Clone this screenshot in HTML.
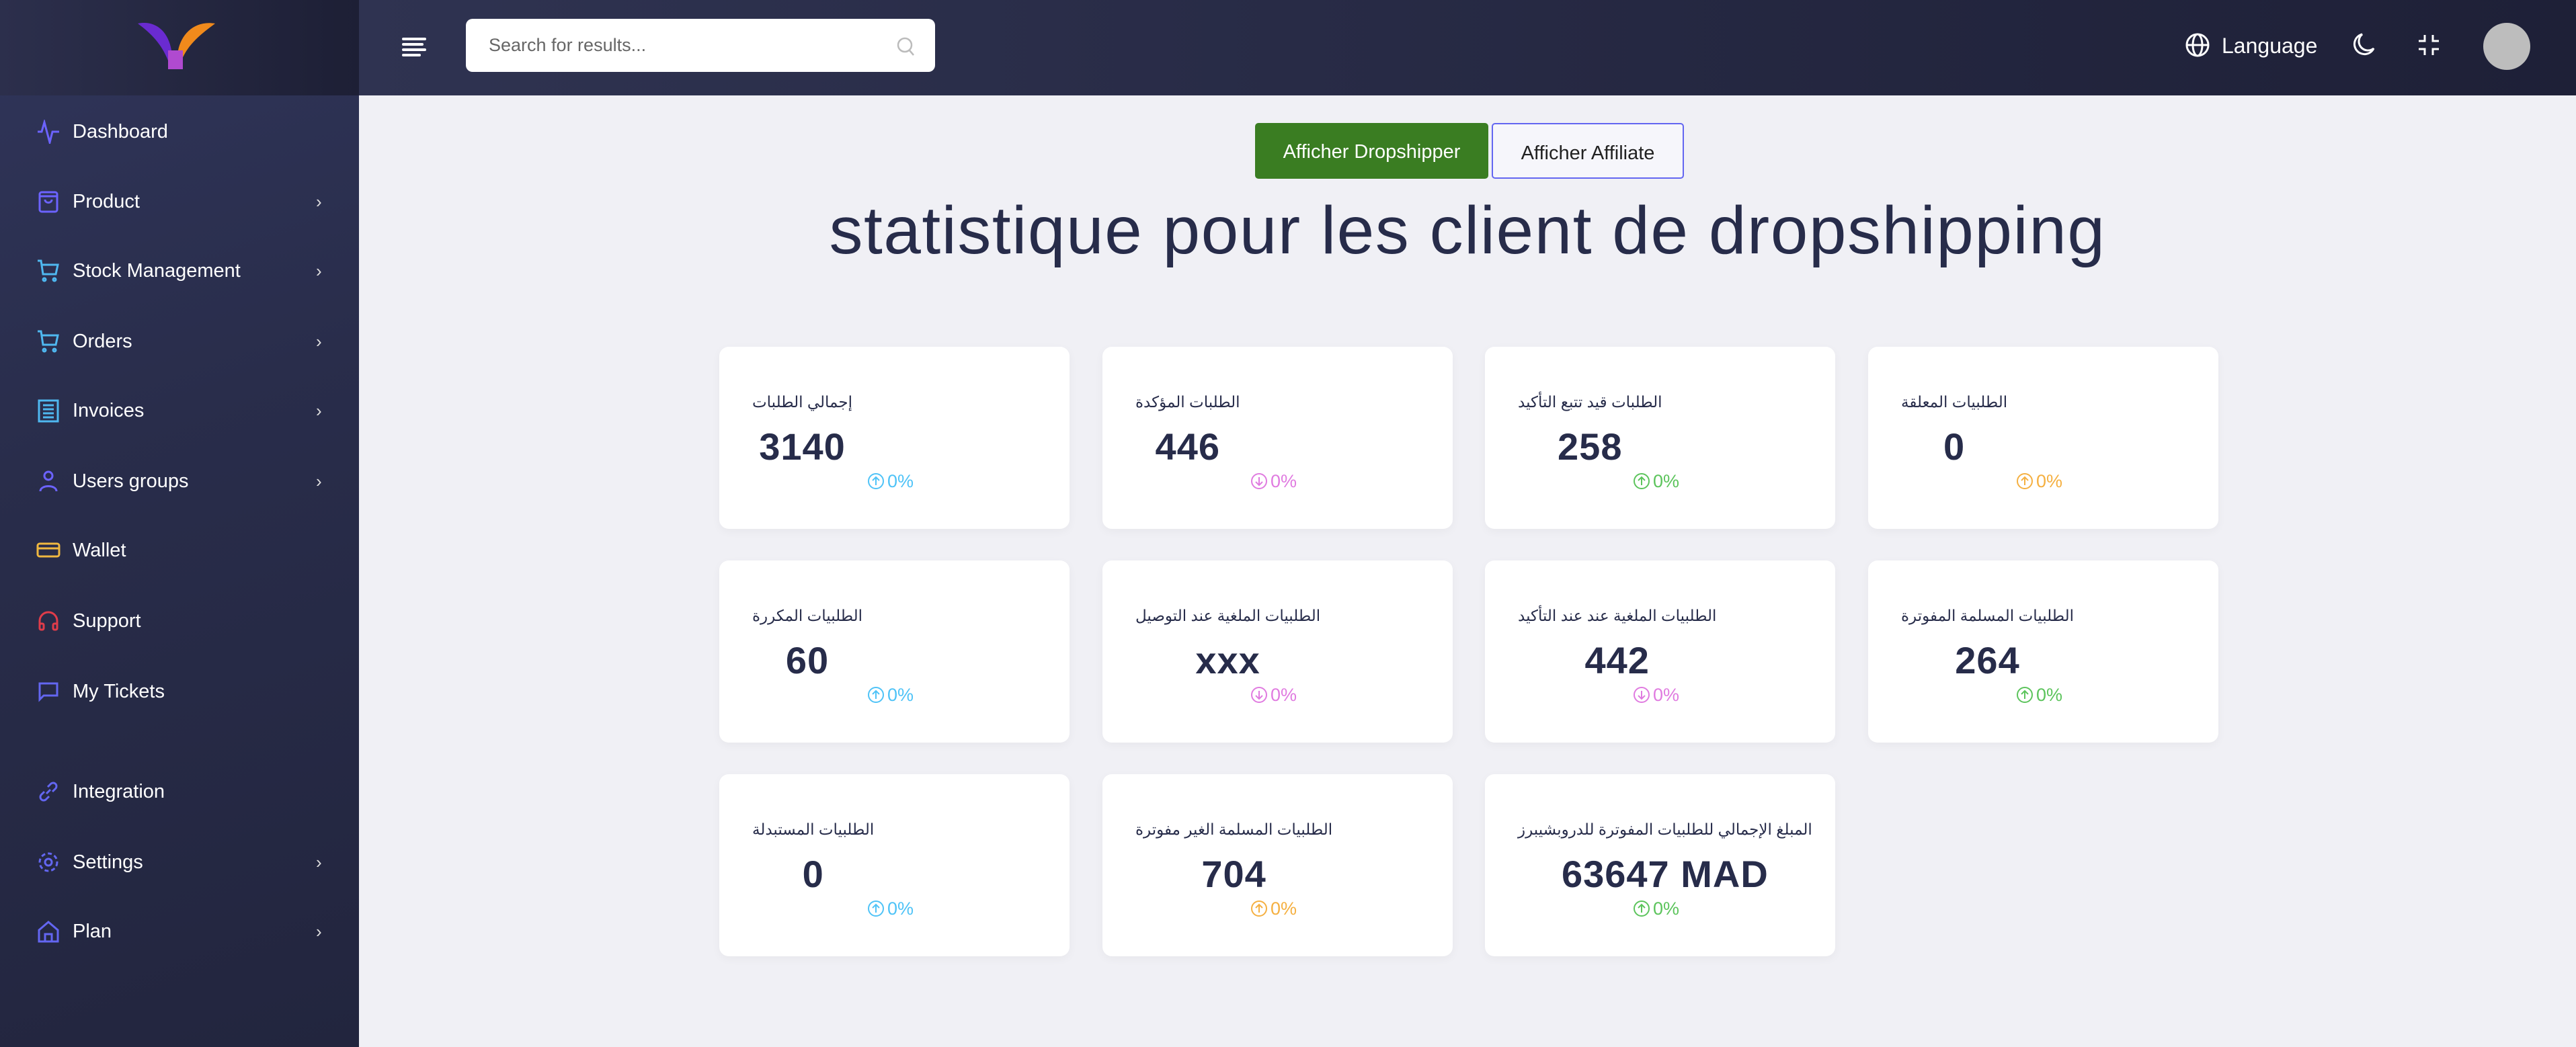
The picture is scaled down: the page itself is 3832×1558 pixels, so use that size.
<!DOCTYPE html>
<html><head><meta charset="utf-8"><style>
*{margin:0;padding:0;box-sizing:border-box}
body{width:3832px;height:1558px;overflow:hidden;background:#f0f0f5;font-family:"Liberation Sans","Noto Sans CJK SC",sans-serif;position:relative}
.side{position:absolute;left:0;top:0;width:534px;height:1558px;background:linear-gradient(160deg,#30355a 0%,#292d4b 40%,#22253e 100%)}
.logo{position:absolute;left:0;top:0;width:534px;height:142px;background:linear-gradient(90deg,#2c2f4c,#1d1f35)}
.hdr{position:absolute;left:534px;top:0;width:3298px;height:142px;background:linear-gradient(90deg,#2f3351,#1e2037)}
.nav{position:absolute;left:0;width:534px;height:60px;color:#fff;font-size:29px;line-height:60px}
.nav svg{position:absolute;left:54px;top:12px}
.nav span{position:absolute;left:108px}
.nav i{position:absolute;left:470px;font-style:normal;font-size:26px;color:#ddd}
.search{position:absolute;left:693px;top:28px;width:698px;height:79px;background:#fff;border-radius:10px;color:#666;font-size:27px;line-height:79px;padding-left:34px}
.card{position:absolute;width:521px;height:271px;background:#fff;border-radius:14px;box-shadow:0 4px 14px rgba(0,0,0,0.04)}
.lab{position:absolute;left:49px;top:62px;text-align:center;color:#272c4a}
.lab b{display:block;font-weight:normal;font-size:23px;white-space:nowrap;height:40px;line-height:40px}
.lab em{display:block;font-style:normal;font-weight:bold;font-size:56px;margin-top:14px;white-space:nowrap;letter-spacing:1px}
.pct{position:absolute;left:220px;top:185px;font-size:27px;line-height:30px}
.pct svg{vertical-align:-4px;margin-right:4px}
.btn{position:absolute;top:183px;height:83px;font-size:29px;line-height:86px;text-align:center;border-radius:5px}
h1{position:absolute;left:534px;width:3298px;top:286px;text-align:center;font-weight:normal;font-size:100px;color:#272c4a;letter-spacing:1.5px}
</style></head><body>
<div class="side"></div>
<div class="logo"><svg style="position:absolute;left:200px;top:30px" width="130" height="75" viewBox="0 0 130 75"><path d="M5 5 C30 0 50 15 55 45 L50 60 C40 35 25 20 5 5Z" fill="#6a2bd1"/><path d="M120 5 C90 0 70 20 65 45 L70 60 C80 35 100 20 120 5Z" fill="#f08a1c"/><rect x="50" y="45" width="22" height="28" fill="#b04ad0"/></svg></div>
<div class="hdr"></div>
<svg style="position:absolute;left:598px;top:55px" width="36" height="30"><g stroke="#fff" stroke-width="4" stroke-linecap="round"><line x1="2" y1="3" x2="34" y2="3"/><line x1="2" y1="11" x2="30" y2="11"/><line x1="2" y1="19" x2="34" y2="19"/><line x1="2" y1="27" x2="26" y2="27"/></g></svg>
<div class="search">Search for results...<svg style="position:absolute;right:30px;top:26px" width="28" height="30"><circle cx="13" cy="13" r="10" fill="none" stroke="#bbb" stroke-width="2.5"/><line x1="20" y1="21" x2="26" y2="28" stroke="#bbb" stroke-width="2.5"/></svg></div>
<svg style="position:absolute;left:3250px;top:48px" width="38" height="38" viewBox="0 0 38 38" fill="none" stroke="#fff" stroke-width="3"><circle cx="19" cy="19" r="16"/><ellipse cx="19" cy="19" rx="7" ry="16"/><line x1="3" y1="19" x2="35" y2="19"/></svg>
<div style="position:absolute;left:3305px;top:44px;color:#fff;font-size:32px;line-height:48px">Language</div>
<svg style="position:absolute;left:3500px;top:48px" width="34" height="36" viewBox="0 0 34 36"><path d="M14 3 A15 15 0 1 0 31 24 A11 11 0 0 1 14 3Z" fill="none" stroke="#fff" stroke-width="3"/></svg>
<svg style="position:absolute;left:3596px;top:50px" width="34" height="34" fill="none" stroke="#fff" stroke-width="3"><path d="M11 2v9H2M23 2v9h9M11 32v-9H2M23 32v-9h9"/></svg>
<div style="position:absolute;left:3694px;top:34px;width:70px;height:70px;border-radius:50%;background:#bdbdbd"></div>

<div class="nav" style="top:166px"><svg width="36" height="36" viewBox="0 0 36 36" fill="none" stroke="#6c63ff" stroke-width="3"><path d="M2 18h6l4-14 8 30 4-16h10"/></svg><span>Dashboard</span></div>
<div class="nav" style="top:270px"><svg width="36" height="36" viewBox="0 0 36 36" fill="none" stroke="#6c63ff" stroke-width="3"><rect x="5" y="4" width="26" height="29" rx="3"/><path d="M5 10h26M13 15c0 6 10 6 10 0"/></svg><span>Product</span><i>›</i></div>
<div class="nav" style="top:373px"><svg width="36" height="36" viewBox="0 0 36 36" fill="none" stroke="#4fb8f0" stroke-width="3"><path d="M2 3h5l3 20h19l3-14H9"/><circle cx="12" cy="31" r="2"/><circle cx="27" cy="31" r="2"/></svg><span>Stock Management</span><i>›</i></div>
<div class="nav" style="top:478px"><svg width="36" height="36" viewBox="0 0 36 36" fill="none" stroke="#4fb8f0" stroke-width="3"><path d="M2 3h5l3 20h19l3-14H9"/><circle cx="12" cy="31" r="2"/><circle cx="27" cy="31" r="2"/></svg><span>Orders</span><i>›</i></div>
<div class="nav" style="top:581px"><svg width="36" height="36" viewBox="0 0 36 36" fill="none" stroke="#4fb8f0" stroke-width="3"><rect x="4" y="3" width="28" height="31"/><path d="M10 10h16M10 16h16M10 22h16M10 28h16"/></svg><span>Invoices</span><i>›</i></div>
<div class="nav" style="top:686px"><svg width="36" height="36" viewBox="0 0 36 36" fill="none" stroke="#6c63ff" stroke-width="3"><circle cx="18" cy="10" r="6"/><path d="M6 33c0-10 24-10 24 0"/></svg><span>Users groups</span><i>›</i></div>
<div class="nav" style="top:789px"><svg width="36" height="36" viewBox="0 0 36 36" fill="none" stroke="#f0b840" stroke-width="3"><rect x="2" y="8" width="32" height="19" rx="3"/><path d="M2 15h32"/></svg><span>Wallet</span></div>
<div class="nav" style="top:894px"><svg width="36" height="36" viewBox="0 0 36 36" fill="none" stroke="#e03c4a" stroke-width="3"><path d="M5 26v-8a13 13 0 0 1 26 0v8"/><rect x="5" y="22" width="6" height="9" rx="2"/><rect x="25" y="22" width="6" height="9" rx="2"/></svg><span>Support</span></div>
<div class="nav" style="top:999px"><svg width="36" height="36" viewBox="0 0 36 36" fill="none" stroke="#6366f1" stroke-width="3"><path d="M5 6h26v18H11l-6 6Z"/></svg><span>My Tickets</span></div>
<div class="nav" style="top:1148px"><svg width="36" height="36" viewBox="0 0 36 36" fill="none" stroke="#6366f1" stroke-width="3"><path d="M15 21l6-6M12 18l-5 5a5 5 0 0 0 7 7l5-5M24 18l5-5a5 5 0 0 0-7-7l-5 5"/></svg><span>Integration</span></div>
<div class="nav" style="top:1253px"><svg width="36" height="36" viewBox="0 0 36 36" fill="none" stroke="#6366f1" stroke-width="3"><circle cx="18" cy="18" r="5"/><circle cx="18" cy="18" r="13" stroke-dasharray="6 4"/></svg><span>Settings</span><i>›</i></div>
<div class="nav" style="top:1356px"><svg width="36" height="36" viewBox="0 0 36 36" fill="none" stroke="#6366f1" stroke-width="3"><path d="M4 16L18 4l14 12v17H4Z"/><path d="M13 33V22h10v11"/></svg><span>Plan</span><i>›</i></div>

<div class="btn" style="left:1867px;width:347px;background:#3a7d22;color:#fff">Afficher Dropshipper</div>
<div class="btn" style="left:2219px;width:286px;border:2px solid #6366f1;color:#222;background:#f6f6fb">Afficher Affiliate</div>
<h1>statistique pour les client de dropshipping</h1>

<div class="card" style="left:1070px;top:516px"><div class="lab"><b>إجمالي الطلبات</b><em>3140</em></div><div class="pct" style="color:#4fc3f7"><svg width="26" height="26" viewBox="0 0 26 26" fill="none" stroke="currentColor" stroke-width="2"><circle cx="13" cy="13" r="11"/><path d="M13 19V7M8 12l5-5 5 5"/></svg>0%</div></div>
<div class="card" style="left:1640px;top:516px"><div class="lab"><b>الطلبات المؤكدة</b><em>446</em></div><div class="pct" style="color:#e07be0"><svg width="26" height="26" viewBox="0 0 26 26" fill="none" stroke="currentColor" stroke-width="2"><circle cx="13" cy="13" r="11"/><path d="M13 7v12M8 14l5 5 5-5"/></svg>0%</div></div>
<div class="card" style="left:2209px;top:516px"><div class="lab"><b>الطلبات قيد تتبع التأكيد</b><em>258</em></div><div class="pct" style="color:#5cc45c"><svg width="26" height="26" viewBox="0 0 26 26" fill="none" stroke="currentColor" stroke-width="2"><circle cx="13" cy="13" r="11"/><path d="M13 19V7M8 12l5-5 5 5"/></svg>0%</div></div>
<div class="card" style="left:2779px;top:516px"><div class="lab"><b>الطلبيات المعلقة</b><em>0</em></div><div class="pct" style="color:#f5b041"><svg width="26" height="26" viewBox="0 0 26 26" fill="none" stroke="currentColor" stroke-width="2"><circle cx="13" cy="13" r="11"/><path d="M13 19V7M8 12l5-5 5 5"/></svg>0%</div></div>

<div class="card" style="left:1070px;top:834px"><div class="lab"><b>الطلبيات المكررة</b><em>60</em></div><div class="pct" style="color:#4fc3f7"><svg width="26" height="26" viewBox="0 0 26 26" fill="none" stroke="currentColor" stroke-width="2"><circle cx="13" cy="13" r="11"/><path d="M13 19V7M8 12l5-5 5 5"/></svg>0%</div></div>
<div class="card" style="left:1640px;top:834px"><div class="lab"><b>الطلبيات الملغية عند التوصيل</b><em>xxx</em></div><div class="pct" style="color:#e07be0"><svg width="26" height="26" viewBox="0 0 26 26" fill="none" stroke="currentColor" stroke-width="2"><circle cx="13" cy="13" r="11"/><path d="M13 7v12M8 14l5 5 5-5"/></svg>0%</div></div>
<div class="card" style="left:2209px;top:834px"><div class="lab"><b>الطلبيات الملغية عند عند التأكيد</b><em>442</em></div><div class="pct" style="color:#e07be0"><svg width="26" height="26" viewBox="0 0 26 26" fill="none" stroke="currentColor" stroke-width="2"><circle cx="13" cy="13" r="11"/><path d="M13 7v12M8 14l5 5 5-5"/></svg>0%</div></div>
<div class="card" style="left:2779px;top:834px"><div class="lab"><b>الطلبيات المسلمة المفوترة</b><em>264</em></div><div class="pct" style="color:#5cc45c"><svg width="26" height="26" viewBox="0 0 26 26" fill="none" stroke="currentColor" stroke-width="2"><circle cx="13" cy="13" r="11"/><path d="M13 19V7M8 12l5-5 5 5"/></svg>0%</div></div>

<div class="card" style="left:1070px;top:1152px"><div class="lab"><b>الطلبيات المستبدلة</b><em>0</em></div><div class="pct" style="color:#4fc3f7"><svg width="26" height="26" viewBox="0 0 26 26" fill="none" stroke="currentColor" stroke-width="2"><circle cx="13" cy="13" r="11"/><path d="M13 19V7M8 12l5-5 5 5"/></svg>0%</div></div>
<div class="card" style="left:1640px;top:1152px"><div class="lab"><b>الطلبيات المسلمة الغير مفوترة</b><em>704</em></div><div class="pct" style="color:#f5b041"><svg width="26" height="26" viewBox="0 0 26 26" fill="none" stroke="currentColor" stroke-width="2"><circle cx="13" cy="13" r="11"/><path d="M13 19V7M8 12l5-5 5 5"/></svg>0%</div></div>
<div class="card" style="left:2209px;top:1152px"><div class="lab"><b>المبلغ الإجمالي للطلبيات المفوترة للدروبشيبرز</b><em>63647 MAD</em></div><div class="pct" style="color:#5cc45c"><svg width="26" height="26" viewBox="0 0 26 26" fill="none" stroke="currentColor" stroke-width="2"><circle cx="13" cy="13" r="11"/><path d="M13 19V7M8 12l5-5 5 5"/></svg>0%</div></div>
</body></html>
